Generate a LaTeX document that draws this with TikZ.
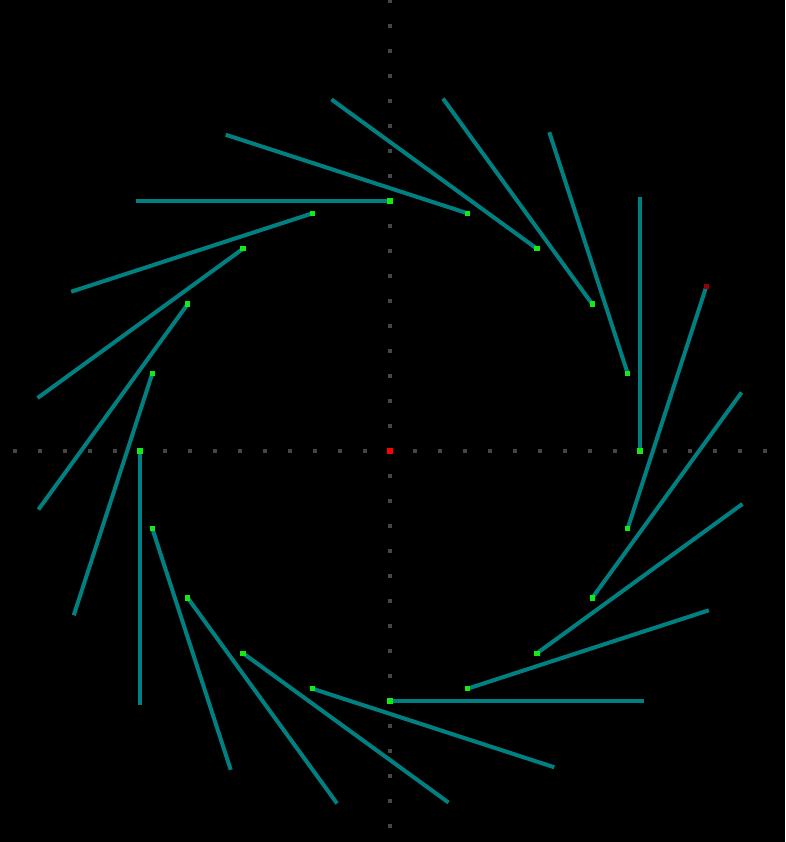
\documentclass[tikz,border=0pt]{standalone}
\usetikzlibrary{calc}
\definecolor{bladeteal}{RGB}{0,128,128}
\definecolor{hubgreen}{RGB}{20,235,20}
\definecolor{axisgray}{RGB}{70,70,70}
\definecolor{tipred}{RGB}{150,0,0}

\begin{document}
\begin{tikzpicture}[x=0.75pt, y=0.75pt]
    \tikzset{
        axisdot/.style={fill=axisgray, minimum size=3.6pt, inner sep=0pt},
        hub/.style={fill=hubgreen, minimum size=4pt, inner sep=0pt},
        origin/.style={fill=red, minimum size=4pt, inner sep=0pt},
        tip/.style={fill=tipred, minimum size=4pt, inner sep=0pt},
        blade/.style={bladeteal, line width=3pt}
    }

    % Background and frame
    \fill[black] (-390,-391) rectangle (395,451);
    \useasboundingbox (-390,-391) rectangle (395,451);

    % Dotted axes
    \foreach \k in {-15,...,15} {
        \node[axisdot] (hx\k) at (\k*25,0) {};
    }
    \foreach \k in {-15,...,18} {
        \node[axisdot] (vy\k) at (0,\k*25) {};
    }

    % Blade roots on the circle and their free ends
    \foreach \i in {0,...,19} {
        \pgfmathsetmacro{\ang}{90-18*\i}
        \coordinate (p\i) at (\ang:250);
        \coordinate (e\i) at ($(p\i)+(\ang+90:254)$);
    }
    \foreach \i in {0,...,19} {
        \draw[blade] (p\i) -- (e\i);
    }
    \foreach \i in {0,...,19} {
        \node[hub] (hub\i) at (p\i) {};
    }

    \node[tip] (tip6) at (e6) {};
    \node[origin] (center) at (0,0) {};
\end{tikzpicture}
\end{document}
